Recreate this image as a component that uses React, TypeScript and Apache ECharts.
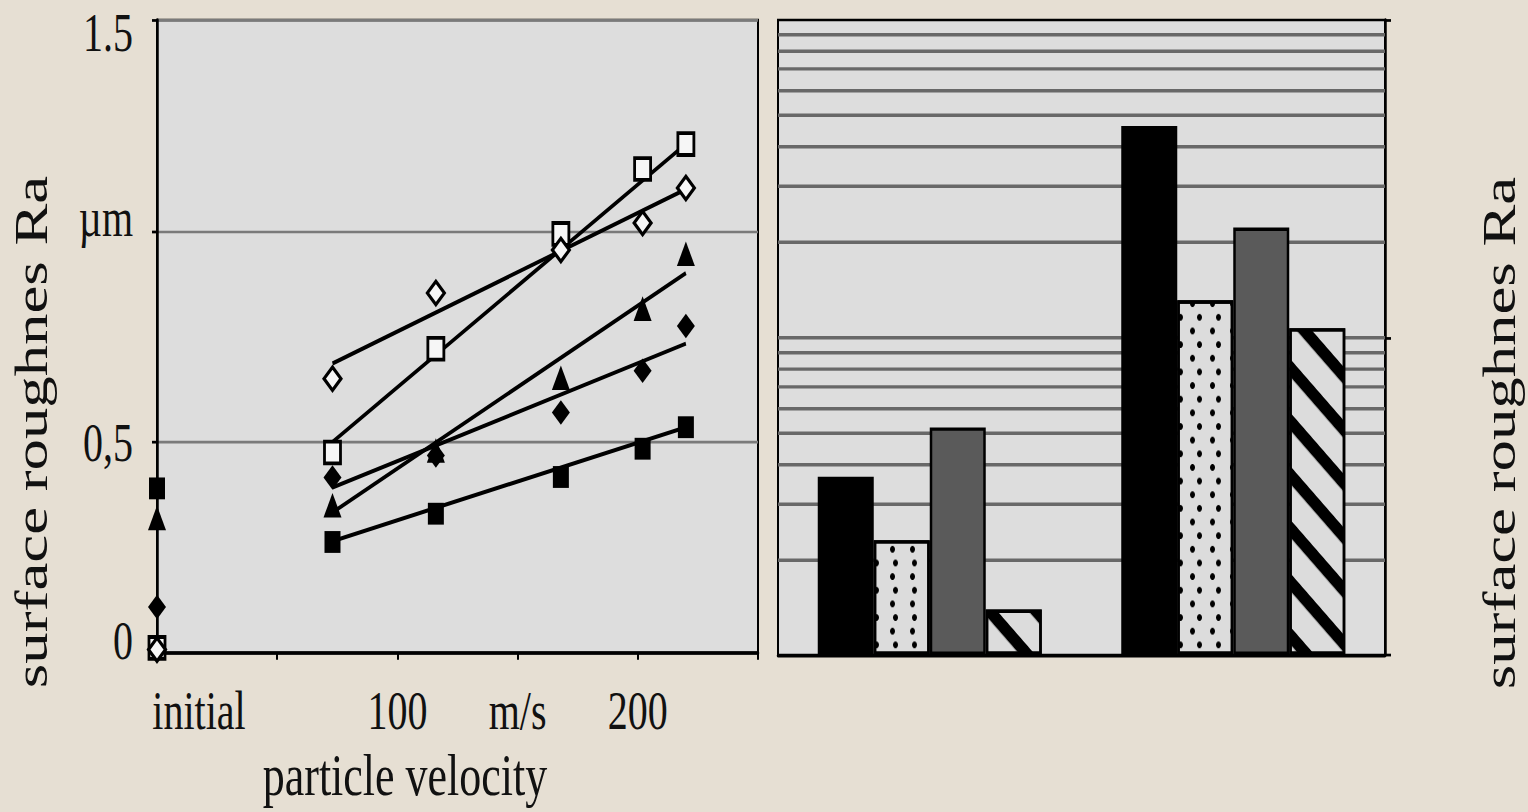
import React, { useEffect, useRef } from 'react';
import * as echarts from 'echarts';

// ---------- data ----------
const velocities = [73, 116, 168, 202, 220]; // m/s
const initialVelocity = 0;

const openSquareRa = [0.475, 0.721, 0.993, 1.147, 1.206];
const openDiamondRa = [0.65, 0.853, 0.955, 1.019, 1.102];
const triangleRa = [0.35, 0.48, 0.652, 0.816, 0.946];
const filledDiamondRa = [0.416, 0.468, 0.57, 0.669, 0.775];
const filledSquareRa = [0.263, 0.33, 0.417, 0.484, 0.535];

// initial roughness (value at "initial")
const initialOpenSquare = 0.012;
const initialOpenDiamond = 0.008;
const initialTriangle = 0.32;
const initialFilledDiamond = 0.109;
const initialFilledSquare = 0.39;

// trend lines: start / end velocity and Ra
const trendVelocity = [73, 220];
const trendOpenSquare = [0.5, 1.206];
const trendOpenDiamond = [0.686, 1.099];
const trendTriangle = [0.333, 0.9];
const trendFilledDiamond = [0.392, 0.733];
const trendFilledSquare = [0.265, 0.535];

// right panel (logarithmic value axis)
const barCategories = ['group 1', 'group 2'];
const barBlack = [3.64, 46.4];
const barDotted = [2.3, 13.1];
const barGrey = [5.21, 22.2];
const barHatched = [1.39, 10.7];
const logGridValues = [2, 3, 4, 5, 6, 7, 8, 9, 10, 20, 30, 40, 50, 60, 70, 80, 90];

// tick labels
const xTickLabels: Record<number, string> = { 0: 'initial', 100: '100', 150: 'm/s', 200: '200' };
const yTickLabels: Record<string, string> = { '0': '0', '0.5': '0,5', '1': 'µm', '1.5': '1.5' };

// ---------- layout ----------
const CHART_H = 595;
const SCALE_Y = 812 / CHART_H;
const FONT = '"Liberation Serif", "Times New Roman", serif';
const INK = '#111';

function pts(vals: number[], init: number) {
  return [[initialVelocity, init], ...velocities.map((v, i) => [v, vals[i]])];
}
function trend(vals: number[]) {
  return trendVelocity.map((v, i) => [v, vals[i]]);
}

const lineStyle = { color: '#000', width: 3 };

function buildOption(): any {
  const txt = (size: number, extra: any = {}) => ({ fontFamily: FONT, fontSize: size, color: INK, ...extra });
  return {
    animation: false,
    backgroundColor: 'transparent',
    grid: [
      {
        left: 157, top: 14.66, width: 601, height: 463.8, show: true, containLabel: false, outerBoundsMode: 'none',
        backgroundColor: '#dddddd', borderColor: '#000', borderWidth: 2,
      },
      {
        left: 778, top: 14.66, width: 607, height: 465.3, show: true, containLabel: false, outerBoundsMode: 'none',
        backgroundColor: '#dddddd', borderColor: '#000', borderWidth: 2,
      },
    ],
    xAxis: [
      {
        type: 'value', gridIndex: 0, min: 0, max: 250, interval: 50,
        axisLine: { show: true, onZero: false, lineStyle: { color: '#000', width: 2.5 } },
        axisTick: { show: true, length: 5, lineStyle: { color: '#000', width: 2 } },
        splitLine: { show: false },
        axisLabel: {
          margin: 22, ...txt(40),
          formatter: (v: number) => (v === 0 ? '{i|' + xTickLabels[0] + '}' : xTickLabels[v] ?? ''),
          rich: { i: txt(40, { padding: [0, 0, 0, 84] }) },
        },
        name: 'particle velocity', nameLocation: 'middle', nameGap: 62,
        nameTextStyle: txt(44, { padding: [0, 105, 0, 0] }),
      },
      {
        type: 'category', gridIndex: 1, data: barCategories,
        axisLine: { show: true, lineStyle: { color: '#000', width: 2.5 } },
        axisTick: { show: false }, axisLabel: { show: false }, splitLine: { show: false },
      },
    ],
    yAxis: [
      {
        type: 'value', gridIndex: 0, min: 0, max: 1.5, interval: 0.5,
        axisLine: { show: true, lineStyle: { color: '#000', width: 2.5 } },
        axisTick: { show: true, length: 5, lineStyle: { color: '#000', width: 2 } },
        splitLine: { show: true, lineStyle: { color: '#7a7a7a', width: 2 } },
        axisLabel: {
          margin: 24, ...txt(40),
          formatter: (v: number) => {
            const s = yTickLabels[String(v)] ?? '';
            if (v === 0) return '{b|' + s + '}';
            if (v === 1) return '{m|' + s + '}';
            if (v === 1.5) return '{t|' + s + '}';
            return '{n|' + s + '}';
          },
          rich: {
            n: txt(40),
            b: txt(40, { padding: [0, 0, 19, 0] }),
            m: txt(40, { padding: [0, 0, 20, 0] }),
            t: txt(40, { lineHeight: 10, padding: [18, 0, 0, 0] }),
          },
        },
        name: 'surface roughnes Ra', nameLocation: 'middle', nameRotate: 90, nameGap: 102,
        nameTextStyle: txt(46, { padding: [0, 140, 0, 0] }),
      },
      {
        type: 'log', gridIndex: 1, position: 'right', min: 1, max: 100, logBase: 10,
        axisLine: { show: true, lineStyle: { color: '#000', width: 2.5 } },
        axisTick: { show: true, length: 6, lineStyle: { color: '#000', width: 2 } },
        axisLabel: { show: false }, splitLine: { show: false },
        name: 'surface roughnes Ra', nameLocation: 'middle', nameRotate: 90, nameGap: 92,
        nameTextStyle: txt(46, { padding: [0, 140, 0, 0] }),
      },
    ],
    series: [
      // trend lines
      ...[trendOpenSquare, trendOpenDiamond, trendTriangle, trendFilledDiamond, trendFilledSquare].map((t, k) => ({
        type: 'line', name: 'trend ' + k, xAxisIndex: 0, yAxisIndex: 0, data: trend(t),
        symbol: 'none', lineStyle, z: 2, silent: true,
      })),
      // measured points
      {
        type: 'scatter', name: 'open square', xAxisIndex: 0, yAxisIndex: 0, z: 4,
        data: pts(openSquareRa, initialOpenSquare), symbol: 'rect', symbolSize: 16,
        itemStyle: { color: '#f6f6f6', borderColor: '#000', borderWidth: 2.8, opacity: 1 },
      },
      {
        type: 'scatter', name: 'open diamond', xAxisIndex: 0, yAxisIndex: 0, z: 4,
        data: pts(openDiamondRa, initialOpenDiamond), symbol: 'diamond', symbolSize: 17,
        itemStyle: { color: '#f6f6f6', borderColor: '#000', borderWidth: 2.8, opacity: 1 },
      },
      {
        type: 'scatter', name: 'triangle', xAxisIndex: 0, yAxisIndex: 0, z: 4,
        data: pts(triangleRa, initialTriangle), symbol: 'triangle', symbolSize: 18,
        itemStyle: { color: '#000', opacity: 1 },
      },
      {
        type: 'scatter', name: 'filled diamond', xAxisIndex: 0, yAxisIndex: 0, z: 4,
        data: pts(filledDiamondRa, initialFilledDiamond), symbol: 'diamond', symbolSize: 18,
        itemStyle: { color: '#000', opacity: 1 },
      },
      {
        type: 'scatter', name: 'filled square', xAxisIndex: 0, yAxisIndex: 0, z: 4,
        data: pts(filledSquareRa, initialFilledSquare), symbol: 'rect', symbolSize: 16,
        itemStyle: { color: '#000', opacity: 1 },
      },
      // log grid lines of the right panel
      {
        type: 'line', name: 'grid', xAxisIndex: 1, yAxisIndex: 1, z: 1, silent: true,
        data: barCategories.map(() => '-'), symbol: 'none', lineStyle: { width: 0 },
        markLine: {
          silent: true, symbol: 'none', z: 1, label: { show: false },
          lineStyle: { color: '#686868', width: 2.5, type: 'solid' },
          emphasis: { disabled: true },
          data: logGridValues.map((v) => ({ yAxis: v })),
        },
      },
      // bars
      {
        type: 'bar', name: 'black', xAxisIndex: 1, yAxisIndex: 1, z: 10, data: barBlack,
        barWidth: 56, barGap: '0%',
        itemStyle: { color: '#000', borderColor: '#000', borderWidth: 2.5 },
      },
      {
        type: 'bar', name: 'dotted', xAxisIndex: 1, yAxisIndex: 1, z: 10, data: barDotted,
        barWidth: 56, barGap: '0%',
        itemStyle: {
          color: '#dcdcdc', borderColor: '#000', borderWidth: 2.5,
          decal: {
            symbol: 'circle', symbolSize: 1, color: '#000',
            dashArrayX: [[5, 14], [0, 9.5, 5, 4.5]], dashArrayY: [5, 4.5], rotation: 0,
          },
        },
      },
      {
        type: 'bar', name: 'grey', xAxisIndex: 1, yAxisIndex: 1, z: 10, data: barGrey,
        barWidth: 56, barGap: '0%',
        itemStyle: { color: '#5a5a5a', borderColor: '#000', borderWidth: 2.5 },
      },
      {
        type: 'bar', name: 'hatched', xAxisIndex: 1, yAxisIndex: 1, z: 10, data: barHatched,
        barWidth: 56, barGap: '0%',
        itemStyle: {
          color: '#dcdcdc', borderColor: '#000', borderWidth: 2.5,
          decal: {
            symbol: 'rect', symbolSize: 1, color: '#000',
            dashArrayX: [1, 0], dashArrayY: [10, 20], rotation: 0.7,
          },
        },
      },
    ],
  };
}

export default function App() {
  const ref = useRef<HTMLDivElement>(null);
  useEffect(() => {
    if (!ref.current) return;
    const chart = echarts.init(ref.current, null, { renderer: 'svg' });
    chart.setOption(buildOption());
    return () => chart.dispose();
  }, []);
  return (
    <div style={{ position: 'fixed', left: 0, top: 0, width: 1528, height: 812, background: '#e6dfd3', overflow: 'hidden' }}>
      <div
        ref={ref}
        style={{ width: 1528, height: CHART_H, transform: `scaleY(${SCALE_Y})`, transformOrigin: '0 0' }}
      />
    </div>
  );
}
